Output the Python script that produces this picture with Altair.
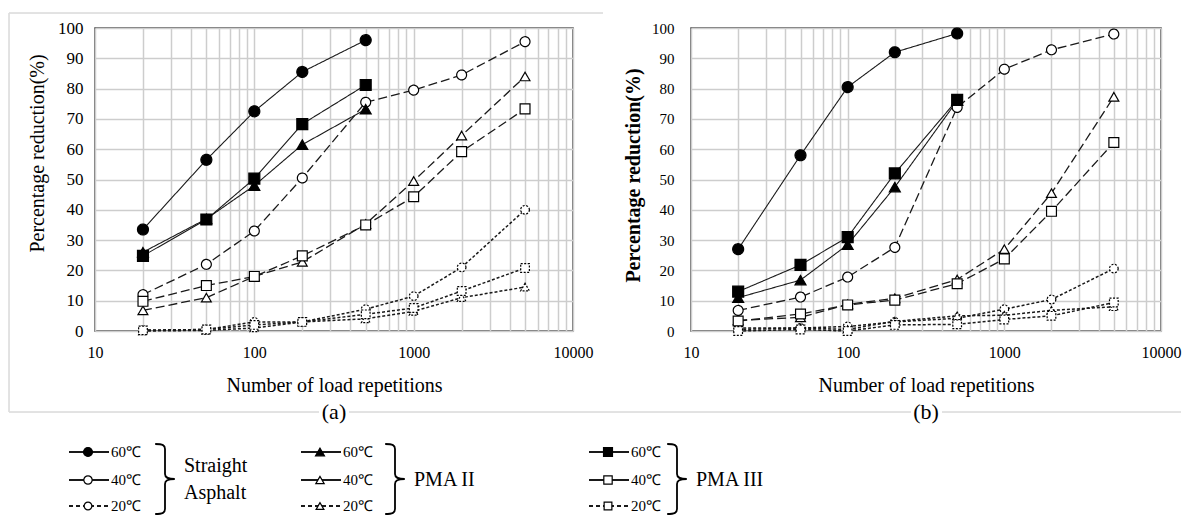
import altair as alt
import pandas as pd

# ---------------- data ----------------
reps = [20, 50, 100, 200, 500, 1000, 2000, 5000]
materials = ["Straight Asphalt", "PMA II", "PMA III"]
temps = ["60℃", "40℃", "20℃"]

# panel (a)
a_sa_60 = [33.5, 56.5, 72.5, 85.5, 96]
a_sa_40 = [12, 22, 33, 50.5, 75.5, 79.5, 84.5, 95.5]
a_sa_20 = [0.3, 0.5, 3, 3, 7.2, 11.5, 21, 40]
a_p2_60 = [26, 37, 48, 61.5, 73.2]
a_p2_40 = [6.8, 11, 18, 22.8, 35.3, 49.5, 64.5, 84]
a_p2_20 = [0, 0.2, 1, 3, 4, 6.5, 11, 14.5]
a_p3_60 = [24.8, 36.8, 50.3, 68.3, 81.2]
a_p3_40 = [9.8, 15, 18, 24.8, 35, 44.3, 59.2, 73.3]
a_p3_20 = [0.2, 0.5, 2, 3, 5.5, 7.6, 13.2, 20.8]

# panel (b)
b_sa_60 = [27, 58, 80.5, 92, 98.2]
b_sa_40 = [6.8, 11.2, 17.8, 27.6, 73.8, 86.4, 92.8, 98]
b_sa_20 = [0.5, 1, 1.5, 3, 4.2, 7.2, 10.4, 20.6]
b_p2_60 = [11, 16.8, 28.5, 47.5, 76]
b_p2_40 = [3.5, 4.5, 8.8, 10.8, 17, 27, 45.5, 77.3]
b_p2_20 = [1, 1, 0.5, 3.2, 5, 5.2, 6.8, 8]
b_p3_60 = [13, 21.8, 31, 52, 76.3]
b_p3_40 = [3.3, 5.6, 8.6, 10.2, 15.6, 23.8, 39.5, 62.2]
b_p3_20 = [0, 0.5, 0, 2, 2.2, 3.8, 5, 9.4]

panel_a = {
    ("Straight Asphalt", "60℃"): a_sa_60, ("Straight Asphalt", "40℃"): a_sa_40, ("Straight Asphalt", "20℃"): a_sa_20,
    ("PMA II", "60℃"): a_p2_60, ("PMA II", "40℃"): a_p2_40, ("PMA II", "20℃"): a_p2_20,
    ("PMA III", "60℃"): a_p3_60, ("PMA III", "40℃"): a_p3_40, ("PMA III", "20℃"): a_p3_20,
}
panel_b = {
    ("Straight Asphalt", "60℃"): b_sa_60, ("Straight Asphalt", "40℃"): b_sa_40, ("Straight Asphalt", "20℃"): b_sa_20,
    ("PMA II", "60℃"): b_p2_60, ("PMA II", "40℃"): b_p2_40, ("PMA II", "20℃"): b_p2_20,
    ("PMA III", "60℃"): b_p3_60, ("PMA III", "40℃"): b_p3_40, ("PMA III", "20℃"): b_p3_20,
}

x_grid = [10, 20, 30, 40, 50, 60, 70, 80, 90,
          100, 200, 300, 400, 500, 600, 700, 800, 900,
          1000, 2000, 3000, 4000, 5000, 6000, 7000, 8000, 9000, 10000]
y_ticks = [0, 10, 20, 30, 40, 50, 60, 70, 80, 90, 100]

SERIF = "Liberation Serif"
GRID = "#cdcdcd"


def make_df(d):
    rows = []
    for (m, t), vals in d.items():
        for n, v in zip(reps, vals):
            rows.append({"material": m, "temp": t, "n": n, "pct": v})
    return pd.DataFrame(rows)


shape_scale = alt.Scale(domain=materials, range=["circle", "triangle-up", "square"])
line_dash = alt.Scale(domain=temps, range=[[1, 0], [9, 4], [3, 2]])
pt_dash = alt.Scale(domain=temps, range=[[1, 0], [1, 0], [2, 1.5]])
fill_scale = alt.Scale(domain=temps, range=["black", "white", "white"])
size_scale = alt.Scale(domain=temps, range=[120, 75, 55])
width_scale = alt.Scale(domain=temps, range=[1.1, 1.5, 1.5])


def panel(df, caption, width, ylab_size, ylab_pad, ytitle_y, ytitle_weight):
    base = alt.Chart(df)
    xenc = alt.X(
        "n:Q",
        scale=alt.Scale(type="log", domain=[10, 10000], nice=False),
        axis=alt.Axis(
            values=x_grid, format="d",
            labelExpr="indexof([10,100,1000,10000], datum.value) >= 0 ? datum.label : ''",
            labelFlush=False, labelOverlap=False, ticks=False, domain=False,
            grid=True, gridColor=GRID, gridWidth=1.5,
            labelFont=SERIF, labelFontSize=16, labelPadding=13, labelColor="#000",
            title="Number of load repetitions", titleFont=SERIF, titleFontSize=20,
            titleFontWeight="normal", titlePadding=15, titleColor="#000",
        ),
    )
    yenc = alt.Y(
        "pct:Q",
        scale=alt.Scale(domain=[0, 100], nice=False),
        axis=alt.Axis(
            values=y_ticks, tickCount=11, ticks=False, domain=False, labelOverlap=False, labelFlush=False,
            grid=True, gridColor=GRID, gridWidth=1.5,
            labelFont=SERIF, labelFontSize=ylab_size, labelPadding=ylab_pad, labelColor="#000",
            title="Percentage reduction(%)", titleFont=SERIF, titleFontSize=20,
            titleFontWeight=ytitle_weight, titleColor="#000",
            titleX=-58, titleY=ytitle_y, titleAlign="center", titleBaseline="middle",
        ),
    )
    lines = base.mark_line(color="#1a1a1a").encode(
        x=xenc, y=yenc, detail="material:N",
        strokeDash=alt.StrokeDash("temp:N", scale=line_dash, legend=None),
        strokeWidth=alt.StrokeWidth("temp:N", scale=width_scale, legend=None),
    )
    pts = base.mark_point(filled=True, stroke="black", strokeWidth=1.2, opacity=1).encode(
        x=xenc, y=yenc,
        shape=alt.Shape("material:N", scale=shape_scale, legend=None),
        fill=alt.Fill("temp:N", scale=fill_scale, legend=None),
        size=alt.Size("temp:N", scale=size_scale, legend=None),
        strokeDash=alt.StrokeDash("temp:N", scale=pt_dash, legend=None),
    )
    return alt.layer(lines, pts).resolve_scale(strokeDash="independent").properties(
        width=width, height=303,
        title=alt.TitleParams(caption, orient="bottom", frame="group", anchor="middle",
                              fontSize=22, font=SERIF, fontWeight="normal", offset=7, color="#000"),
        view=alt.ViewBackground(stroke="#444", strokeWidth=1.5),
    )


left = panel(make_df(panel_a), "(a)", 478, 17, 12, 125, "normal")
right = panel(make_df(panel_b), "(b)", 470, 15, 17, 147, "bold")

# ---------------- legend ----------------
LX0, LY0 = 94, 440  # legend origin (plot origin of left panel column)
group_line_start = [68, 300, 588]
row_y = [451, 479, 505]
brace_cx = [164, 394, 676]
brace_cy = 478
group_labels = [("Straight", 183, 465), ("Asphalt", 183, 492), ("PMA II", 413, 479), ("PMA III", 695, 479)]

leg_rows = []
for i, m in enumerate(materials):
    for j, t in enumerate(temps):
        x0 = group_line_start[i] - LX0
        leg_rows.append({"material": m, "temp": t, "x0": x0, "x1": x0 + 40, "mx": x0 + 19,
                         "tx": x0 + 42, "y": row_y[j] - LY0})
leg_df = pd.DataFrame(leg_rows)
brace_df = pd.DataFrame({"bx": [c - LX0 for c in brace_cx], "by": [brace_cy - LY0] * 3})
name_df = pd.DataFrame({"label": [g[0] for g in group_labels],
                        "nx": [g[1] - LX0 for g in group_labels],
                        "ny": [g[2] - LY0 for g in group_labels]})

LXS = alt.Scale(domain=[0, 478], range=[0, 478], nice=False, zero=False)
LYS = alt.Scale(domain=[0, 67], range=[0, 67], nice=False, zero=False)

leg_base = alt.Chart(leg_df)
leg_lines = leg_base.mark_rule(color="#1a1a1a", strokeWidth=2).encode(
    x=alt.X("x0:Q", scale=LXS, axis=None), x2="x1:Q",
    y=alt.Y("y:Q", scale=LYS, axis=None),
    strokeDash=alt.StrokeDash("temp:N", scale=alt.Scale(domain=temps, range=[[1, 0], [1, 0], [4, 3]]),
                              legend=None),
)
leg_pts = leg_base.mark_point(filled=True, stroke="black", strokeWidth=1.2, opacity=1).encode(
    x=alt.X("mx:Q", scale=LXS, axis=None), y=alt.Y("y:Q", scale=LYS, axis=None),
    shape=alt.Shape("material:N", scale=shape_scale, legend=None),
    fill=alt.Fill("temp:N", scale=fill_scale, legend=None),
    size=alt.Size("temp:N", scale=alt.Scale(domain=temps, range=[80, 60, 50]), legend=None),
)
leg_text = leg_base.mark_text(align="left", baseline="middle", font=SERIF, fontSize=15, color="#000").encode(
    x=alt.X("tx:Q", scale=LXS, axis=None), y=alt.Y("y:Q", scale=LYS, axis=None), text="temp:N",
)
BRACE = ("M-0.28,-1 C-0.06,-1 0,-0.96 0,-0.86 L0,-0.14 C0,-0.04 0.08,0 0.28,0 "
         "C0.08,0 0,0.04 0,0.14 L0,0.86 C0,0.96 -0.06,1 -0.28,1")
braces = alt.Chart(brace_df).mark_point(shape=BRACE, size=4900, filled=False, stroke="black",
                                        strokeWidth=1.8, opacity=1).encode(
    x=alt.X("bx:Q", scale=LXS, axis=None), y=alt.Y("by:Q", scale=LYS, axis=None),
)
names = alt.Chart(name_df).mark_text(align="left", baseline="middle", font=SERIF, fontSize=20,
                                     color="#000").encode(
    x=alt.X("nx:Q", scale=LXS, axis=None), y=alt.Y("ny:Q", scale=LYS, axis=None), text="label:N",
)
FRAME = "#dedede"
frame_top = alt.Chart(brace_df).mark_rule(color=FRAME, strokeWidth=1).encode(
    x=alt.value(8 - LX0), x2=alt.value(602 - LX0), y=alt.value(12 - LY0))
frame_left = alt.Chart(brace_df).mark_rule(color=FRAME, strokeWidth=1).encode(
    x=alt.value(8 - LX0), y=alt.value(12 - LY0), y2=alt.value(411 - LY0))
frame_bottom1 = alt.Chart(brace_df).mark_rule(color=FRAME, strokeWidth=1).encode(
    x=alt.value(8 - LX0), x2=alt.value(318 - LX0), y=alt.value(411 - LY0))
frame_bottom2 = alt.Chart(brace_df).mark_rule(color=FRAME, strokeWidth=1).encode(
    x=alt.value(348 - LX0), x2=alt.value(910 - LX0), y=alt.value(411 - LY0))
frame_bottom3 = alt.Chart(brace_df).mark_rule(color=FRAME, strokeWidth=1).encode(
    x=alt.value(941 - LX0), x2=alt.value(1180 - LX0), y=alt.value(411 - LY0))

legend = alt.layer(frame_top, frame_left, frame_bottom1, frame_bottom2, frame_bottom3,
                   leg_lines, leg_pts, leg_text, braces, names).resolve_scale(
    shape="independent", fill="independent", size="independent", strokeDash="independent"
).properties(width=478, height=67, view=alt.ViewBackground(strokeWidth=0))

chart = alt.concat(left, right, legend, columns=2, spacing={"row": 110, "column": 118},
                   bounds="flush").properties(
    padding={"left": 0, "top": 4, "right": 0, "bottom": 0},
    background="white",
).configure_view(strokeWidth=0)

chart.save("out.html", embed_options={"renderer": "svg", "actions": False})
